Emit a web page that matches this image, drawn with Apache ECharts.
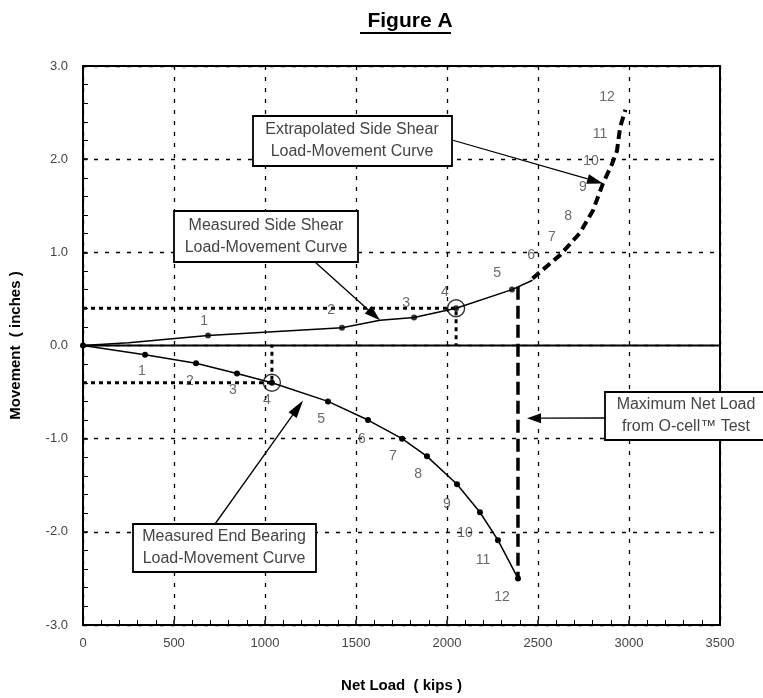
<!DOCTYPE html>
<html><head><meta charset="utf-8">
<script src="https://cdn.jsdelivr.net/npm/echarts@6/dist/echarts.min.js"></script>
<style>html,body{margin:0;padding:0;background:#fff}#c{width:763px;height:698px}</style>
</head><body><div id="c"></div>
<script>
// ---- data ----
const xTicks = [0, 500, 1000, 1500, 2000, 2500, 3000, 3500];
const yTicks = [-3, -2, -1, 0, 1, 2, 3];
const sideShearMeasured = [[0,0],[250,0.03],[687,0.107],[1423,0.19],[1632,0.27],[1819,0.30],[2050,0.40],[2357,0.60],[2470,0.70]];
const sideShearPoints = [[687,0.107],[1423,0.19],[1819,0.30],[2050,0.40],[2357,0.60]];
const sideShearExtrap = [[2470,0.72],[2621,0.97],[2731,1.21],[2802,1.45],[2857,1.74],[2907,1.95],[2934,2.09],[2951,2.34],[2980,2.53]];
const endBearing = [[0,0],[341,-0.10],[621,-0.19],[846,-0.30],[1038,-0.40],[1346,-0.60],[1566,-0.80],[1753,-1.00],[1890,-1.19],[2055,-1.49],[2181,-1.79],[2280,-2.09],[2390,-2.50]];
const upperLabelPos = [[665,0.26],[1363,0.38],[1775,0.46],[1989,0.57],[2275,0.78],[2462,0.97],[2577,1.16],[2665,1.39],[2747,1.70],[2791,1.98],[2841,2.27],[2879,2.67]];
const lowerLabelPos = [[324,-0.27],[588,-0.38],[824,-0.48],[1011,-0.59],[1308,-0.79],[1533,-1.00],[1703,-1.19],[1841,-1.38],[2000,-1.70],[2099,-2.01],[2198,-2.30],[2302,-2.70]];
const pointNumbers = ['1','2','3','4','5','6','7','8','9','10','11','12'];
const zeroLine = [[0,0],[3500,0]];
const upperRef = [[0,0.40],[2050,0.40],[2050,0]];
const lowerRef = [[0,-0.40],[1038,-0.40],[1038,0]];
const maxNetLoad = [[2390,0.63],[2390,-2.50]];
const circled = [[2050,0.40],[1038,-0.40]];

const chart = echarts.init(document.getElementById('c'));
const F = 'Liberation Sans, Arial, sans-serif';
const gridLine = {show:true, lineStyle:{color:'#000', width:1.3, type:[4,7]}};
function labelSeries(pos){
  return {type:'scatter', data: pos.map((p,i)=>({value:p, label:{formatter: pointNumbers[i]}})),
    symbolSize:0, silent:true, z:5,
    label:{show:true, position:'inside', color:'#444', fontFamily:F, fontSize:14}};
}
chart.setOption({
  animation:false,
  grid:{left:83, right:43, top:66, bottom:73, show:true, borderColor:'#000', borderWidth:2},
  title:{text:'Figure A', left:405, top:6, textAlign:'center',
    textStyle:{fontFamily:F, fontSize:21, fontWeight:'bold', color:'#000'}},
  xAxis:{type:'value', min:0, max:3500, interval:500,
    name:'Net Load  ( kips )', nameLocation:'middle', nameGap:53,
    nameTextStyle:{fontFamily:F, fontSize:15, fontWeight:'bold', color:'#000'},
    axisLine:{show:true, onZero:false, lineStyle:{color:'#000', width:2}},
    axisTick:{show:true, inside:true, length:5, lineStyle:{color:'#000', width:1.5}},
    minorTick:{show:true, splitNumber:5, length:5, lineStyle:{color:'#000', width:1}},
    axisLabel:{color:'#444', fontFamily:F, fontSize:13, margin:12, formatter:v=>String(v)},
    splitLine:gridLine},
  yAxis:{type:'value', min:-3, max:3, interval:1,
    name:'Movement  ( inches )', nameLocation:'middle', nameGap:60,
    nameTextStyle:{fontFamily:F, fontSize:15, fontWeight:'bold', color:'#000'},
    axisLine:{show:true, onZero:false, lineStyle:{color:'#000', width:2}},
    axisTick:{show:true, inside:true, length:5, lineStyle:{color:'#000', width:1.5}},
    minorTick:{show:true, splitNumber:5, length:5, lineStyle:{color:'#000', width:1}},
    axisLabel:{color:'#444', fontFamily:F, fontSize:13, margin:15, formatter:v=>v.toFixed(1)},
    splitLine:gridLine},
  series:[
    {type:'line', data:zeroLine, symbol:'none', lineStyle:{color:'#000', width:1.8}, silent:true},
    {type:'line', data:upperRef, symbol:'none', lineStyle:{color:'#000', width:3, type:[4,4]}, silent:true},
    {type:'line', data:lowerRef, symbol:'none', lineStyle:{color:'#000', width:3, type:[4,4]}, silent:true},
    {type:'line', data:maxNetLoad, symbol:'none', lineStyle:{color:'#000', width:3.5, type:[13,6]}, silent:true},
    {type:'line', data:sideShearMeasured, symbol:'none', lineStyle:{color:'#000', width:1.5}, z:4},
    {type:'scatter', data:sideShearPoints, symbol:'circle', symbolSize:6, itemStyle:{color:'#000'}, z:4},
    {type:'line', data:sideShearExtrap, symbol:'none', lineStyle:{color:'#000', width:4, type:[9,5]}, z:4},
    {type:'line', data:endBearing, symbol:'circle', symbolSize:6, showSymbol:true, showAllSymbol:true,
      itemStyle:{color:'#000'}, lineStyle:{color:'#000', width:1.5}, z:4},
    {type:'scatter', data:circled, symbol:'circle', symbolSize:17, itemStyle:{color:'rgba(0,0,0,0)', borderWidth:1.4, borderColor:'#000'}, z:6},
    labelSeries(upperLabelPos),
    labelSeries(lowerLabelPos)
  ]
});

function arrow(x1,y1,x2,y2,head){
  const a = Math.atan2(y2-y1, x2-x1), L = head||14, W = 5;
  const bx = x2 - L*Math.cos(a), by = y2 - L*Math.sin(a);
  const px = -Math.sin(a)*W, py = Math.cos(a)*W;
  return [
    {type:'line', shape:{x1:x1,y1:y1,x2:bx,y2:by}, style:{stroke:'#000', lineWidth:1.3}, z:10},
    {type:'polygon', shape:{points:[[x2,y2],[bx+px,by+py],[bx-px,by-py]]}, style:{fill:'#000'}, z:10}
  ];
}
function box(x,y,w,h,lines,cx){
  const els = [{type:'rect', shape:{x:x,y:y,width:w,height:h}, style:{fill:'#fff', stroke:'#000', lineWidth:1.8}, z:11}];
  lines.forEach((t,i)=>els.push({type:'text', x:cx, y:y+h/2+(i-(lines.length-1)/2)*22, z:12,
    style:{text:t, fill:'#444', font:'16px '+F, align:'center', verticalAlign:'middle'}}));
  return els;
}
const P = p => chart.convertToPixel({gridIndex:0}, p);
const t1 = P([2857,1.74]), t2 = P([1632,0.27]), t3 = P([1209,-0.59]), t4 = P([2440,-0.78]);
let g = [];
g = g.concat(arrow(452,140,t1[0],t1[1],16));
g = g.concat(arrow(315,262,t2[0],t2[1],16));
g = g.concat(arrow(215,524,t3[0],t3[1],18));
g = g.concat(arrow(605,418,t4[0],t4[1],14));
g = g.concat(box(253,116,199,50,['Extrapolated Side Shear','Load-Movement Curve'],352));
g = g.concat(box(174,211,184,51,['Measured Side Shear','Load-Movement Curve'],266));
g = g.concat(box(133,524,183,48,['Measured End Bearing','Load-Movement Curve'],224));
g = g.concat(box(605,392,170,48,['Maximum Net Load','from O-cell\u2122 Test'],686));
g.push({type:'line', shape:{x1:360,y1:33,x2:451,y2:33}, style:{stroke:'#000', lineWidth:2.2}, z:10});
chart.setOption({graphic:g});
</script></body></html>
